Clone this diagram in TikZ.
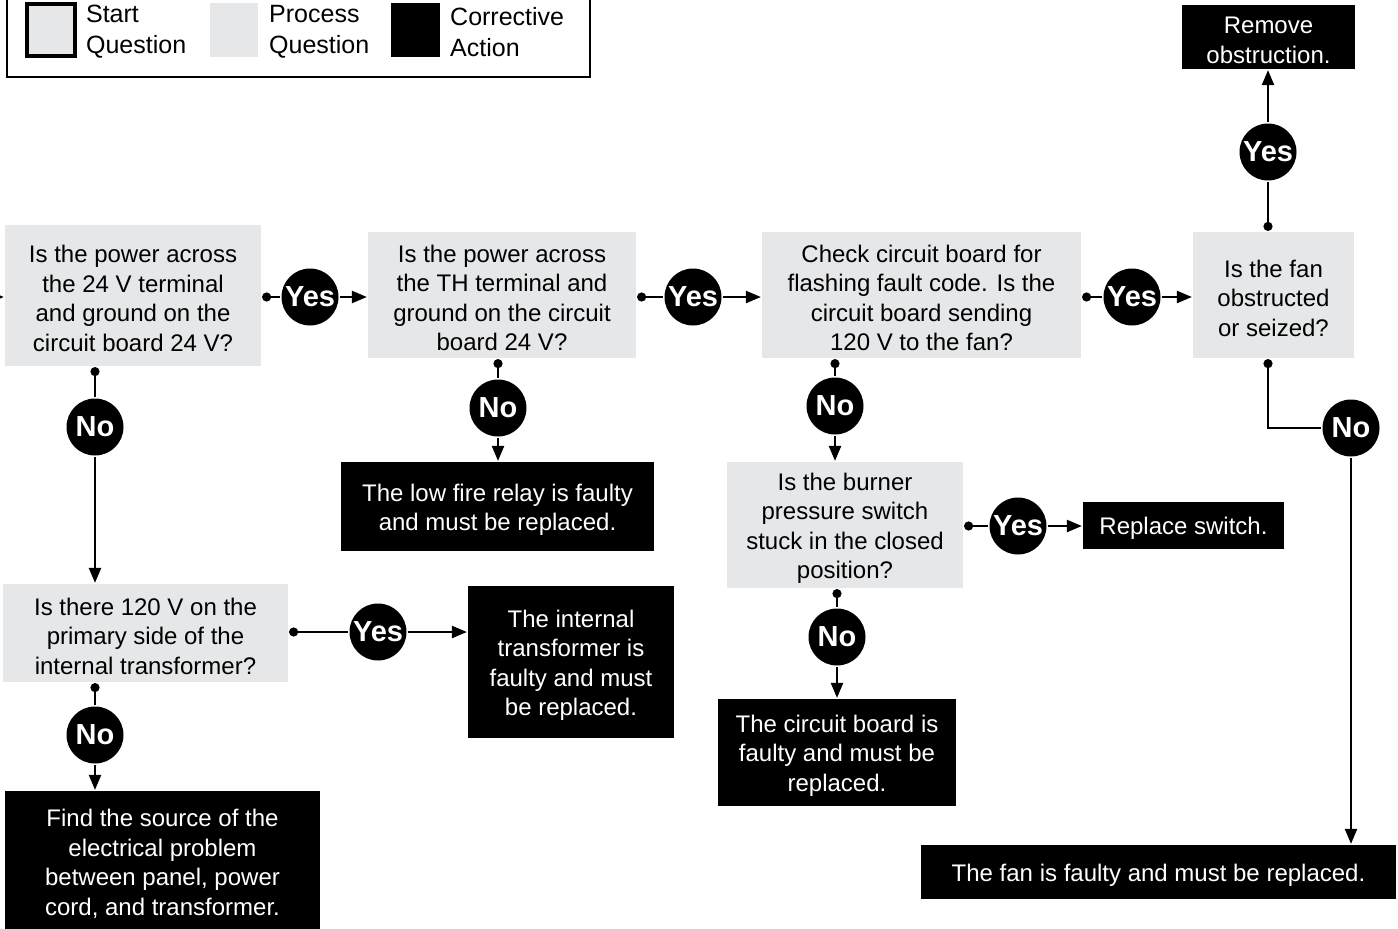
\documentclass[tikz,border=0pt]{standalone}
\usepackage{fontspec}
\setmainfont{Liberation Sans}
\usepackage{tikz}
\usetikzlibrary{positioning,arrows.meta}
\definecolor{procgray}{RGB}{230,231,232}
\newcommand{\toppad}{\rule{0pt}{23.5pt}}

\begin{document}
\begin{tikzpicture}[x=1pt, y=-1pt, line width=2.2pt]
		\tikzstyle{boxtext}=[inner sep=0pt, align=center, font=\fontsize{24}{29.5}\selectfont]
		\tikzstyle{question}=[rectangle, fill=procgray, boxtext]
		\tikzstyle{action}=[rectangle, fill=black, text=white, boxtext]
		\tikzstyle{answer}=[circle, fill=black, text=white, minimum size=57pt, inner sep=0pt, font=\fontsize{29}{30}\selectfont\bfseries]
		\tikzstyle{legtext}=[align=left, inner sep=0pt, font=\fontsize{25}{31}\selectfont]
		\tikzstyle{dotline}=[{Circle[length=9pt]}-]
		\tikzset{>={Triangle[length=15pt,width=12pt]}}

		\useasboundingbox (0,0) rectangle (1398,929);

		% legend
		\draw[line width=2pt] (7,-10) rectangle (590,77);
		\node[rectangle, fill=procgray, draw=black, line width=4pt, minimum width=48, minimum height=52, inner sep=0pt] (startkey) at (51,30) {};
		\node[legtext, right=8 of startkey, yshift=-2] (startlbl) {Start\\Question};
		\node[rectangle, fill=procgray, minimum width=48, minimum height=54, inner sep=0pt] (prockey) at (234,30) {};
		\node[legtext, right=9 of prockey, yshift=-2] (proclbl) {Process\\Question};
		\node[rectangle, fill=black, minimum width=49, minimum height=54, inner sep=0pt] (actkey) at (415.5,30) {};
		\node[legtext, right=8 of actkey, yshift=-2] (actlbl) {Corrective\\Action};

		% questions
		\node[question, minimum width=256, minimum height=141] (q1) at (133,295.5) {\toppad Is the power across\\the 24 V terminal\\and ground on the\\circuit board 24 V?};
		\node[question, minimum width=268, minimum height=126] (q2) at (502,295) {\toppad Is the power across\\the TH terminal and\\ground on the circuit\\board 24 V?};
		\node[question, minimum width=319, minimum height=126] (q3) at (921.5,295) {\toppad Check circuit board for\\flashing fault code. Is the\\circuit board sending\\120 V to the fan?};
		\node[question, minimum width=161, minimum height=126] (q4) at (1273.5,295) {\toppad Is the fan\\obstructed\\or seized?};
		\node[question, minimum width=285, minimum height=98] (q5) at (145.5,633) {\toppad Is there 120 V on the\\primary side of the\\internal transformer?};
		\node[question, minimum width=236, minimum height=126] (q6) at (845,525) {\toppad Is the burner\\pressure switch\\stuck in the closed\\position?};

		% corrective actions
		\node[action, minimum width=173, minimum height=64] (remove) at (1268.5,37) {\toppad Remove\\obstruction.};
		\node[action, minimum width=313, minimum height=89] (relay) at (497.5,506.5) {\toppad The low fire relay is faulty\\and must be replaced.};
		\node[action, minimum width=201, minimum height=47] (switch) at (1183.5,525.5) {\toppad Replace switch.};
		\node[action, minimum width=238, minimum height=107] (board) at (837,752.5) {\toppad The circuit board is\\faulty and must be\\replaced.};
		\node[action, minimum width=206, minimum height=152] (trans) at (571,662) {\toppad The internal\\transformer is\\faulty and must\\be replaced.};
		\node[action, minimum width=315, minimum height=140] (source) at (162.5,861) {\toppad Find the source of the\\electrical problem\\between panel, power\\cord, and transformer.};
		\node[action, minimum width=475, minimum height=54] (fan) at (1158.5,872) {\toppad The fan is faulty and must be replaced.};

		% answers
		\node[answer] (yes1) at (310,297) {Yes};
		\node[answer] (yes2) at (693,297) {Yes};
		\node[answer] (yes3) at (1132,297) {Yes};
		\node[answer] (yes4) at (1268,152) {Yes};
		\node[answer] (yes5) at (378,632) {Yes};
		\node[answer] (yes6) at (1018,526) {Yes};
		\node[answer] (no1) at (95,427) {No};
		\node[answer] (no2) at (498,408) {No};
		\node[answer] (no3) at (835,406) {No};
		\node[answer] (no4) at (1351,428) {No};
		\node[answer] (no5) at (95,735) {No};
		\node[answer] (no6) at (837,637) {No};

		% entry
		\coordinate (entry) at (-20,297);
		\draw[->] (entry) -- (q1.west |- entry);

		% yes paths
		\draw[dotline] (q1.east |- yes1) -- (yes1);
		\draw[->] (yes1) -- (q2.west |- yes1);
		\draw[dotline] (q2.east |- yes2) -- (yes2);
		\draw[->] (yes2) -- (q3.west |- yes2);
		\draw[dotline] (q3.east |- yes3) -- (yes3);
		\draw[->] (yes3) -- (q4.west |- yes3);
		\draw[dotline] (yes4 |- q4.north) -- (yes4);
		\draw[->] (yes4) -- (yes4 |- remove.south);
		\draw[dotline] (q5.east |- yes5) -- (yes5);
		\draw[->] (yes5) -- (trans.west |- yes5);
		\draw[dotline] (q6.east |- yes6) -- (yes6);
		\draw[->] (yes6) -- (switch.west |- yes6);

		% no paths
		\draw[dotline] (no1 |- q1.south) -- (no1);
		\draw[->] (no1) -- (no1 |- q5.north);
		\draw[dotline] (no2 |- q2.south) -- (no2);
		\draw[->] (no2) -- (no2 |- relay.north);
		\draw[dotline] (no3 |- q3.south) -- (no3);
		\draw[->] (no3) -- (no3 |- q6.north);
		\draw[dotline] (yes4 |- q4.south) -- (yes4 |- no4) -- (no4);
		\draw[->] (no4) -- (no4 |- fan.north);
		\draw[dotline] (no5 |- q5.south) -- (no5);
		\draw[->] (no5) -- (no5 |- source.north);
		\draw[dotline] (no6 |- q6.south) -- (no6);
		\draw[->] (no6) -- (no6 |- board.north);
	\end{tikzpicture}
\end{document}
